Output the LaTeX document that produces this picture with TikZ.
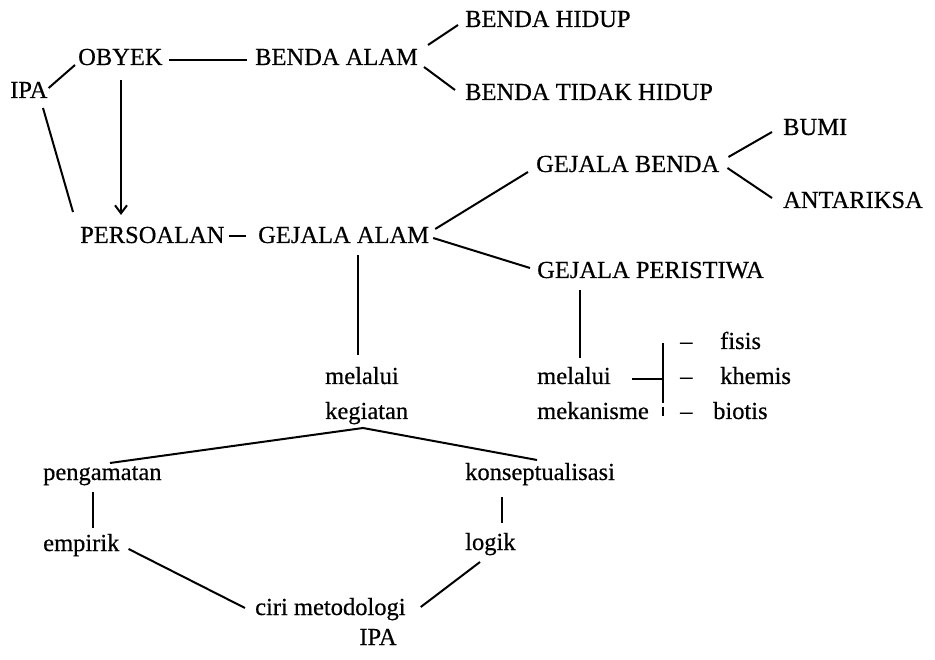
\documentclass[tikz,border=0pt]{standalone}
\usepackage{fontspec}
\setmainfont{Liberation Serif}[FakeBold=0.5]
\usetikzlibrary{arrows.meta,calc}
\begin{document}
\begin{tikzpicture}[x=1pt,y=-1pt,
  lbl/.style={inner sep=0pt,anchor=base west,font=\fontsize{24.5}{29}\selectfont},
  ln/.style={line width=2pt},
  arr/.style={line width=2pt,-{Straight Barb[length=8pt,width=12pt,line width=2pt]}}]
\useasboundingbox (0,0) rectangle (935,660);
% nodes
\node[lbl] (bhidup) at (465,27) {BENDA HIDUP};
\node[lbl] (obyek) at (78,65) {OBYEK};
\node[lbl] (balam) at (255,65) {BENDA ALAM};
\node[lbl] (btidak) at (465,100) {BENDA TIDAK HIDUP};
\node[lbl] (ipa) at (10,98) {IPA};
\node[lbl] (bumi) at (783,135) {BUMI};
\node[lbl] (gbenda) at (536,172) {GEJALA BENDA};
\node[lbl] (antariksa) at (783,208) {ANTARIKSA};
\node[lbl] (persoalan) at (80,243) {PERSOALAN};
\node[lbl] (galam) at (258,243) {GEJALA ALAM};
\node[lbl] (gperistiwa) at (537,278) {GEJALA PERISTIWA};
\node[lbl] (melalui1) at (325,384) {melalui};
\node[lbl] (kegiatan) at (325,419) {kegiatan};
\node[lbl] (melalui2) at (537,384) {melalui};
\node[lbl] (mekanisme) at (537,419) {mekanisme};
\node[lbl] (fisis) at (680,349) {–\hspace*{27.75pt}fisis};
\node[lbl] (khemis) at (680,384) {–\hspace*{27.75pt}khemis};
\node[lbl] (biotis) at (680,419) {–\hspace*{20.75pt}biotis};
\node[lbl] (pengamatan) at (43,480) {pengamatan};
\node[lbl] (konsep) at (465,480) {konseptualisasi};
\node[lbl] (empirik) at (43,551) {empirik};
\node[lbl] (logik) at (465,550) {logik};
\node[lbl] (ciri) at (255,615) {ciri metodologi};
\node[lbl,anchor=base] (ipa2) at (378,645) {IPA};
% connectors
\draw[ln] ($(ipa.base east)+(1,-10)$) -- ($(obyek.base west)+(-3,0)$);
\draw[ln] ($(ipa.base west)+(33,10)$) -- ($(persoalan.base west)+(-7,-31)$);
\draw[arr] ($(obyek.base west)+(43,15)$) -- ($(persoalan.base west)+(41,-28)$);
\draw[ln] ($(obyek.base east)+(6,-5)$) -- ($(balam.base west)+(-8,-5)$);
\draw[ln] ($(balam.base east)+(10,-20)$) -- ($(bhidup.base west)+(-7,-2)$);
\draw[ln] ($(balam.base east)+(6,2)$) -- ($(btidak.base west)+(-10,-10)$);
\draw[line width=2.6pt] ($(persoalan.base east)+(4,-7)$) -- ($(galam.base west)+(-12,-7)$);
\draw[ln] ($(galam.base east)+(6,-14)$) -- ($(gbenda.base west)+(-8,0)$);
\draw[ln] ($(galam.base east)+(4,-5)$) -- ($(gperistiwa.base west)+(-7,-10)$);
\draw[ln] ($(gbenda.base east)+(9,-15)$) -- ($(bumi.base west)+(-11,-3)$);
\draw[ln] ($(gbenda.base east)+(8,-4)$) -- ($(antariksa.base west)+(-11,-10)$);
\draw[ln] ($(galam.base west)+(100,12)$) -- ($(melalui1.base west)+(33,-29)$);
\draw[ln] ($(gperistiwa.base west)+(43,12)$) -- ($(melalui2.base west)+(43,-26)$);
\draw[ln] ($(melalui2.base east)+(21,-5)$) -- ($(khemis.base west)+(-17,-5)$);
\draw[ln] ($(fisis.base west)+(-17,-6)$) -- ($(biotis.base west)+(-17,-16)$);
\draw[ln] ($(biotis.base west)+(-17,-12)$) -- ($(biotis.base west)+(-17,-3)$);
\draw[ln] ($(pengamatan.base west)+(67,-17)$) -- ($(kegiatan.base west)+(38,9)$) -- ($(konsep.base west)+(72,-20)$);
\draw[ln] ($(pengamatan.base west)+(50,12)$) -- ($(empirik.base west)+(50,-23)$);
\draw[ln] ($(konsep.base west)+(37,17)$) -- ($(logik.base west)+(37,-27)$);
\draw[ln] ($(empirik.base east)+(9,-2)$) -- ($(ciri.base west)+(-10,-7)$);
\draw[ln] ($(logik.base west)+(15,12)$) -- ($(ciri.base east)+(15,-8)$);
\end{tikzpicture}
\end{document}
